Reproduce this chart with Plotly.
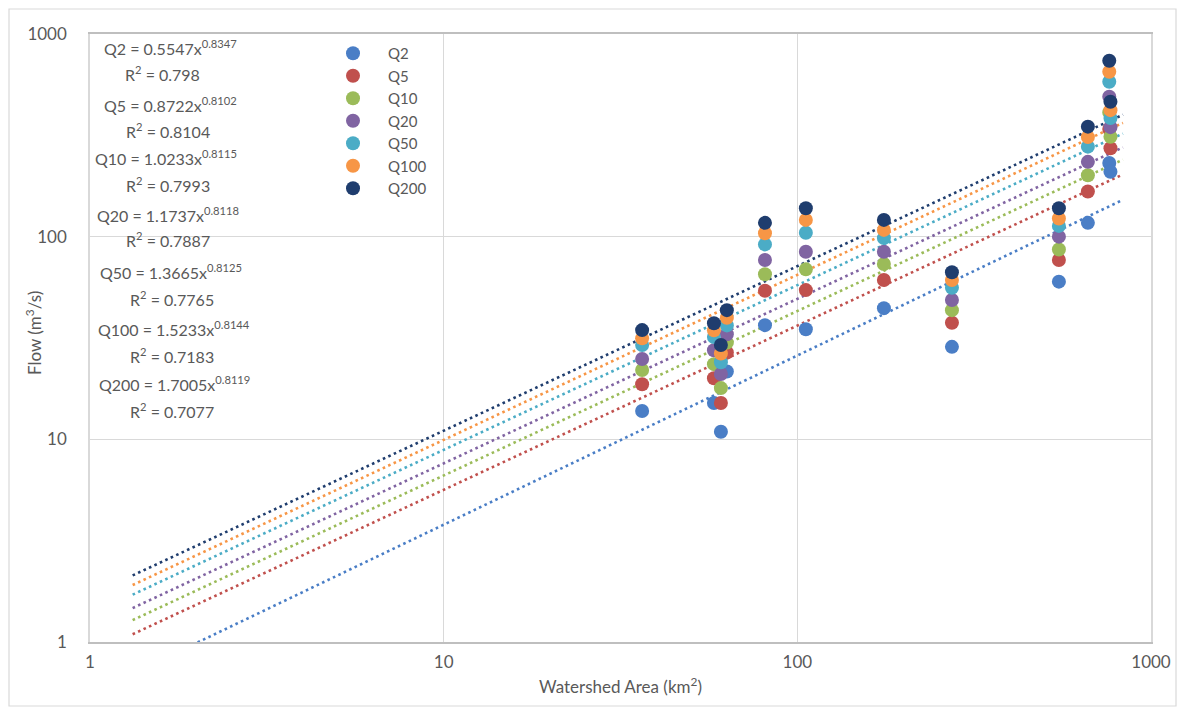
import plotly.graph_objects as go

# ---- data ----
series_names = ["Q2", "Q5", "Q10", "Q20", "Q50", "Q100", "Q200"]
colors = ["#4a7ec6", "#c0504d", "#9bbb59", "#8064a2", "#4bacc6", "#f79646", "#1f3d6e"]

area = [36.4, 58.1, 60.8, 63.2, 81.0, 105.7, 175.7, 273.6, 549, 663, 762, 768]
q2 = [13.8, 15.1, 10.9, 21.6, 36.6, 34.9, 44.4, 28.6, 60, 117, 231, 209]
q5 = [18.7, 20.0, 15.1, 26.8, 54.1, 54.5, 61.1, 37.6, 76.7, 167, 340, 273]
q10 = [22.0, 23.5, 17.9, 30.0, 65.3, 69.0, 73.3, 43.4, 86.5, 201, 410, 311]
q20 = [24.9, 27.5, 21.0, 33.0, 76.7, 84.3, 84.3, 48.7, 100, 234, 490, 347]
q50 = [29.2, 32.0, 24.0, 36.5, 91.6, 104.5, 98.4, 56.0, 113, 278, 581, 385]
q100 = [31.5, 34.5, 26.5, 39.8, 104, 121, 108, 61.1, 123, 310, 651, 421]
q200 = [34.6, 37.4, 29.2, 43.4, 117, 138, 121, 66.7, 138, 349, 738, 463]
values = [q2, q5, q10, q20, q50, q100, q200]

# power trendline coefficients  Q = a * x^b  and R^2 (as printed on chart)
coef_a = [0.5547, 0.8722, 1.0233, 1.1737, 1.3665, 1.5233, 1.7005]
coef_b = [0.8347, 0.8102, 0.8115, 0.8118, 0.8125, 0.8144, 0.8119]
r2 = ["0.798", "0.8104", "0.7993", "0.7887", "0.7765", "0.7183", "0.7077"]
trend_x = [1.32, 10, 100, 833]

x_ticks = [1, 10, 100, 1000]
y_ticks = [1, 10, 100, 1000]

FONT = "Lato, 'Open Sans', sans-serif"
GRAY = "#595959"

fig = go.Figure()

# trendlines (drawn first, behind points)
for name, col, a, b in zip(series_names, colors, coef_a, coef_b):
    fig.add_trace(go.Scatter(
        x=trend_x, y=[a * x ** b for x in trend_x], mode="lines",
        line=dict(color=col, width=2.6, dash="2.6px,3.4px"),
        showlegend=False, hoverinfo="skip"))

for name, col, vals in zip(series_names, colors, values):
    fig.add_trace(go.Scatter(
        x=area, y=vals, mode="markers", name=name, legendgroup=name,
        marker=dict(color=col, size=14, line=dict(width=0))))

# page offset (browser body margin) and plot-area position in window pixels
OFF = 8
W, H = 1185 - 2 * OFF, 717 - 2 * OFF - 2
L, R, T, B = 90, 1151, 34, 642
def px(xp):
    return (xp - L) / (R - L)
def py(yp):
    return (B - yp) / (B - T)

eq_pos = [(170, 48, 162, 73), (170, 104, 168, 130), (166, 157, 168, 185),
          (168, 214, 168, 240), (171, 271, 172, 298), (174, 328, 172, 355),
          (174, 383, 172, 410)]
annotations = []
for name, a, b, r, (ex, ey, rx, ry) in zip(series_names, coef_a, coef_b, r2, eq_pos):
    annotations.append(dict(
        x=px(ex), y=py(ey), xref="paper", yref="paper", showarrow=False,
        xanchor="center", yanchor="middle",
        text=f"{name} = {a:.4f}x<sup>{b:.4f}</sup>",
        font=dict(family=FONT, size=16, color=GRAY)))
    annotations.append(dict(
        x=px(rx), y=py(ry), xref="paper", yref="paper", showarrow=False,
        xanchor="center", yanchor="middle",
        text=f"R<sup>2</sup> = {r}",
        font=dict(family=FONT, size=16, color=GRAY)))

# y-axis title as a rotated annotation
annotations.append(dict(
    x=px(33), y=py(333), xref="paper", yref="paper", showarrow=False,
    xanchor="center", yanchor="middle", textangle=-90,
    text="Flow (m<sup>3</sup>/s)", font=dict(family=FONT, size=17, color=GRAY)))

fig.update_layout(
    width=W, height=H,
    margin=dict(l=L - OFF, r=(W + OFF) - R, t=T - OFF, b=(H + OFF) - B, pad=0,
                autoexpand=False),
    paper_bgcolor="white", plot_bgcolor="white",
    font=dict(family=FONT, color=GRAY, size=16),
    annotations=annotations,
    legend=dict(x=px(318), y=py(37), xanchor="left", yanchor="top",
                bgcolor="rgba(0,0,0,0)", font=dict(size=15, color=GRAY, family=FONT),
                tracegroupgap=0, itemsizing="trace", itemwidth=60),
    shapes=[dict(type="rect", xref="paper", yref="paper",
                 x0=px(9), x1=px(1176), y0=py(706), y1=py(9),
                 line=dict(color="#d9d9d9", width=1.2), layer="below")],
    showlegend=True,
)
fig.update_xaxes(
    type="log", range=[0, 3], tickvals=x_ticks, ticktext=[str(v) for v in x_ticks],
    showgrid=True, gridcolor="#d9d9d9", gridwidth=1.2,
    showline=True, linecolor="#bfbfbf", linewidth=1.5, mirror=True,
    ticks="outside", ticklen=4, tickcolor="rgba(0,0,0,0)", zeroline=False,
    tickfont=dict(family=FONT, size=17, color=GRAY),
    title=dict(text="Watershed Area (km<sup>2</sup>)", standoff=10,
               font=dict(family=FONT, size=17, color=GRAY)))
fig.update_yaxes(
    type="log", range=[0, 3], tickvals=y_ticks, ticktext=[str(v) for v in y_ticks],
    showgrid=True, gridcolor="#d9d9d9", gridwidth=1.2,
    showline=True, linecolor="#d9d9d9", linewidth=1.5, mirror=True,
    ticks="outside", ticklen=18, tickcolor="rgba(0,0,0,0)", zeroline=False,
    tickfont=dict(family=FONT, size=17, color=GRAY))

fig.write_html("out.html")
